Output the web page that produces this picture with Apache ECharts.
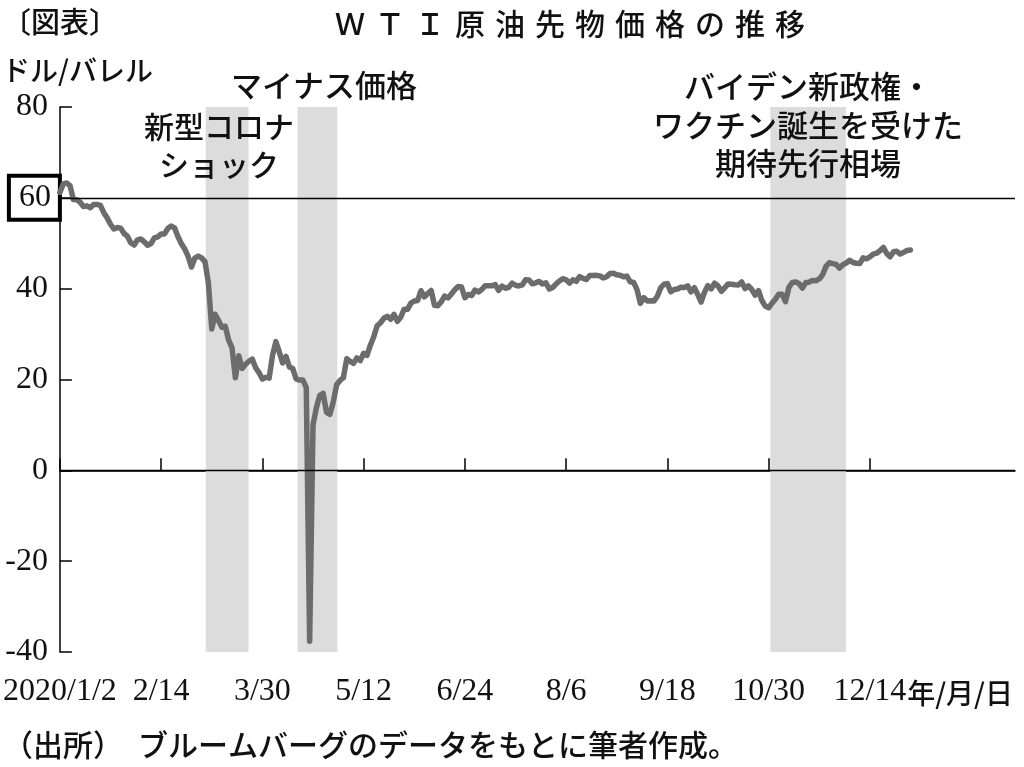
<!DOCTYPE html>
<html>
<head>
<meta charset="utf-8">
<script src="https://cdn.jsdelivr.net/npm/echarts@6/dist/echarts.min.js"></script>
<style>
html,body{margin:0;padding:0;background:#fff;}
#main{width:1024px;height:767px;}
</style>
</head>
<body>
<div id="main"></div>
<script>
// WTI front-month daily closes, 2020 trading days (index 0 = 2020/1/2)
const wtiPrices = [
61.18,63.05,63.27,62.70,59.61,59.56,59.04,58.08,58.23,57.81,
58.52,58.54,58.34,56.74,55.59,54.19,53.14,53.48,53.33,52.14,
51.56,50.11,49.61,50.75,50.95,50.32,49.57,49.94,51.17,51.42,
52.05,52.05,53.29,53.78,53.38,51.43,49.90,48.73,47.09,44.76,
46.75,47.18,46.78,45.90,41.28,31.13,34.36,32.98,31.50,31.73,
28.70,26.95,20.37,25.22,22.43,23.36,24.01,24.49,22.60,21.51,
20.09,20.48,20.31,25.32,28.34,26.08,23.63,25.09,22.76,22.41,
20.11,19.87,19.87,18.27,-37.63,10.01,13.78,16.50,16.94,12.78,
12.34,15.06,18.84,19.78,20.39,24.56,23.99,23.55,24.74,24.14,
25.78,25.29,27.56,29.43,31.82,32.50,33.49,33.92,33.25,34.35,
32.81,33.71,35.49,35.44,36.81,37.29,37.41,39.55,38.19,38.94,
39.60,36.34,36.26,37.12,38.38,37.96,38.84,39.75,40.46,40.37,
38.01,38.72,38.49,39.70,39.27,39.82,40.65,40.63,40.62,40.90,
39.62,40.55,40.10,40.29,41.20,40.75,40.59,40.81,41.96,41.90,
41.07,41.29,41.60,41.04,41.27,39.92,40.27,41.01,41.70,42.19,
41.95,41.22,41.94,41.61,42.67,42.24,42.01,42.89,42.89,42.93,
42.82,42.34,42.62,43.35,43.39,43.04,42.97,42.61,42.76,41.51,
41.37,39.77,36.76,38.05,37.30,37.33,37.26,38.28,40.16,40.97,
41.11,39.31,39.80,39.93,40.31,40.25,40.60,39.29,40.22,38.72,
37.05,39.22,40.67,39.95,41.19,40.60,39.43,40.20,41.04,40.96,
40.88,40.83,41.46,40.03,40.64,39.85,38.56,39.57,37.39,36.17,
35.79,36.81,37.66,38.79,38.79,37.14,40.29,41.36,41.45,41.12,
40.13,41.34,41.43,41.82,41.74,42.15,43.06,44.91,45.71,45.53,
45.34,44.55,45.28,45.64,46.26,45.76,45.60,45.52,46.78,46.57,
46.99,47.62,47.82,48.36,49.10,47.74,47.02,48.12,48.23,47.62,
48.00,48.40,48.52
];
// x tick labels and their trading-day positions
const tickLabels = ['2020/1/2','2/14','3/30','5/12','6/24','8/6','9/18','10/30','12/14'];
const tickPositions = [0,30,60,90,120,150,180,210,240];
// shaded periods (trading-day index ranges)
const shadeRanges = [[43.2,55.9],[70.4,82.2],[210.5,232.9]];
// horizontal reference lines
const refLines = [60, 0];

const SERIF = "'Liberation Serif','Times New Roman',serif";
const JP = "'Noto Sans CJK JP','Noto Sans',sans-serif";

const chart = echarts.init(document.getElementById('main'), null, {renderer:'canvas'});

const lineData = wtiPrices.map((v,i)=>[i,v]);

function txt(x,y,text,size,align,extra){
  return {type:'text',x:x,y:y,z:100,zlevel:0,
    style:Object.assign({text:text,fontFamily:JP,fontSize:size,fontWeight:500,fill:'#111',align:align,verticalAlign:'middle'},extra||{})};
}

const option = {
  animation:false,
  backgroundColor:'#ffffff',
  grid:{left:58,right:9,top:107,bottom:115,containLabel:false},
  xAxis:{
    type:'value',min:0,max:283,interval:30,
    axisLine:{show:true,lineStyle:{color:'#000',width:1.5}},
    axisTick:{show:true,inside:true,length:12,lineStyle:{color:'#000',width:1.5},customValues:tickPositions},
    axisLabel:{
      customValues:tickPositions,
      margin:24,
      fontFamily:SERIF,fontSize:32,color:'#111',
      formatter:function(v){const k=tickPositions.indexOf(v);return k>=0?tickLabels[k]:'';}
    },
    splitLine:{show:false}
  },
  yAxis:{
    type:'value',min:-40,max:80,interval:20,
    axisLine:{show:true,lineStyle:{color:'#000',width:1.5}},
    axisTick:{show:true,inside:true,length:12,lineStyle:{color:'#000',width:1.5}},
    axisLabel:{
      margin:0,
      formatter:function(v){return v===60?'{b|'+v+'}':'{n|'+v+'}';},
      rich:{
        n:{fontFamily:SERIF,fontSize:32,color:'#111',padding:[0,12,0,0]},
        b:{fontFamily:SERIF,fontSize:32,color:'#111',borderColor:'#000',borderWidth:4,padding:[6,9,6,10]}
      }
    },
    splitLine:{show:false}
  },
  series:[
    {
      type:'line',data:[],z:1,silent:true,
      markArea:{
        silent:true,
        itemStyle:{color:'#dcdcdc'},
        data:shadeRanges.map(r=>[{xAxis:r[0]},{xAxis:r[1]}])
      }
    },
    {
      type:'line',data:lineData,z:3,
      showSymbol:false,symbol:'none',smooth:false,
      lineStyle:{color:'#6c6c6c',width:5.5,join:'round',cap:'round'},
      markLine:{
        silent:true,symbol:'none',
        label:{show:false},
        lineStyle:{color:'#000',width:1.3,type:'solid'},
        data:refLines.map(v=>({yAxis:v}))
      }
    }
  ],
  graphic:{
    elements:[
      txt(2,22,'〔図表〕',29,'left'),
      txt(570,24,['Ｗ','Ｔ','Ｉ','原','油','先','物','価','格','の','推','移'].join('\u2004'),30,'center'),
      txt(2,70,'ドル/バレル',28,'left'),
      txt(324,85,'マイナス価格',31,'center'),
      txt(219,146,'新型コロナ\nショック',30,'center',{lineHeight:38}),
      txt(808,125,'バイデン新政権・\nワクチン誕生を受けた\n期待先行相場',31,'center',{lineHeight:38.5}),
      txt(1013,693,'年/月/日',28,'right'),
      txt(3,745,'（出所）　ブルームバーグのデータをもとに筆者作成。',30,'left')
    ]
  }
};
chart.setOption(option);
</script>
</body>
</html>
